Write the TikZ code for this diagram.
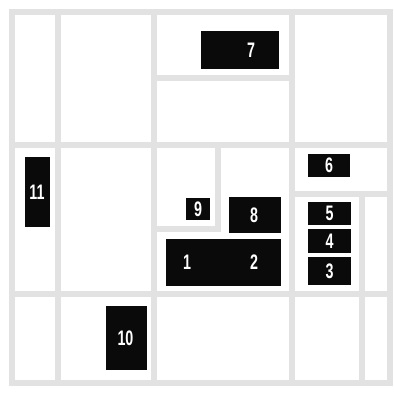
\documentclass[tikz,border=0pt]{standalone}
\usepackage{fontspec}
\usepackage{tikz}
\newfontfamily\numfont{Liberation Sans}[FakeStretch=0.68]
\definecolor{cizgiGri}{HTML}{E2E2E2}
\definecolor{kutuSiyah}{HTML}{0A0A0A}
\tikzset{
  cizgi/.style={cizgiGri,line width=6.5pt},
  kutu/.style={kutuSiyah},
  numara/.style={white,inner sep=0pt,font=\numfont\bfseries\fontsize{21}{21}\selectfont}
}

\begin{document}
\begin{tikzpicture}[x=1pt,y=-1pt]
\useasboundingbox (0,0) rectangle (394,394);
\fill[white] (0,0) rectangle (394,394);
% grid
\draw[cizgi] (12,12) rectangle (390,383);
\draw[cizgi] (58,12)--(58,383);
\draw[cizgi] (154,12)--(154,383);
\draw[cizgi] (292,12)--(292,383);
\draw[cizgi] (12,145)--(390,145);
\draw[cizgi] (12,294)--(390,294);
\draw[cizgi] (154,78)--(292,78);
\draw[cizgi] (218,145)--(218,229)--(154,229);
\draw[cizgi] (292,194)--(390,194);
\draw[cizgi] (362,194)--(362,383);
% boxes
\fill[kutu] (201,31) rectangle (279,69);
\fill[kutu] (308,154) rectangle (350,177);
\fill[kutu] (308,202) rectangle (351,225);
\fill[kutu] (308,229) rectangle (351,253);
\fill[kutu] (308,257) rectangle (351,285);
\fill[kutu] (229,197) rectangle (281,233);
\fill[kutu] (186,198) rectangle (210,220);
\fill[kutu] (166,239) rectangle (281,286);
\fill[kutu] (106,306) rectangle (147,370);
\fill[kutu] (25,157) rectangle (50,227);
% labels
\node[numara] (n1) at (187,262) {1};
\node[numara] (n2) at (254,262) {2};
\node[numara] (n3) at (329.5,271) {3};
\node[numara] (n4) at (329.5,241) {4};
\node[numara] (n5) at (329.5,213.5) {5};
\node[numara] (n6) at (329,165.5) {6};
\node[numara] (n7) at (251,50) {7};
\node[numara] (n8) at (254,215) {8};
\node[numara] (n9) at (198,209) {9};
\node[numara] (n10) at (125.5,338) {10};
\node[numara] (n11) at (37,192) {11};
\end{tikzpicture}
\end{document}
